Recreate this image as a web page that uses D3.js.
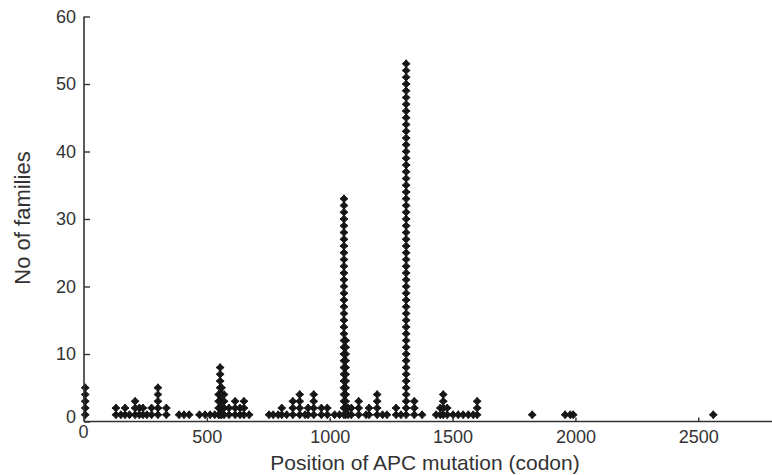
<!DOCTYPE html>
<html>
<head>
<meta charset="utf-8">
<script src="https://cdn.jsdelivr.net/npm/d3@7"></script>
<style>
  html, body { margin: 0; padding: 0; background: #fff; }
  svg { display: block; }
  text { font-family: "Liberation Sans", Arial, Helvetica, sans-serif; fill: #333; }
</style>
</head>
<body>
<svg id="chart" width="772" height="475"></svg>
<script>
// ---- data ----
const codons = [5, 130, 150, 167, 185, 208, 225, 240, 256, 275, 301, 335, 387, 407, 428, 470, 493, 513, 532, 548, 554, 560, 570, 590, 615, 635, 651, 672, 753, 770, 790, 805, 825, 850, 878, 900, 912, 935, 966, 990, 1020, 1040, 1058, 1065, 1075, 1088, 1118, 1148, 1160, 1193, 1215, 1233, 1270, 1290, 1311, 1344, 1376, 1433, 1450, 1462, 1478, 1502, 1523, 1543, 1564, 1584, 1600, 1824, 1958, 1979, 1991, 2561];
const families = [5, 2, 1, 2, 1, 3, 2, 2, 1, 2, 5, 2, 1, 1, 1, 1, 1, 1, 1, 4, 8, 5, 4, 2, 3, 2, 3, 1, 1, 1, 1, 2, 1, 3, 4, 1, 2, 4, 2, 2, 1, 1, 33, 12, 2, 2, 3, 1, 2, 4, 1, 1, 2, 1, 53, 3, 1, 1, 2, 4, 2, 1, 1, 1, 1, 1, 3, 1, 1, 1, 1, 1];
const xTicks = [0, 500, 1000, 1500, 2000, 2500];
const yTicks = [0, 10, 20, 30, 40, 50, 60];
const xTitle = "Position of APC mutation (codon)";
const yTitle = "No of families";

// ---- layout ----
const svg = d3.select("#chart");
const x = d3.scaleLinear().domain([0, 2800]).range([84, 772]);
const y = d3.scaleLinear().domain([0, 60]).range([421.5, 16.5]);
const FONT = "Liberation Sans, Arial, sans-serif";

// points: one marker per family, stacked
const pts = [];
codons.forEach((c, i) => {
  for (let j = 1; j <= families[i]; j++) pts.push({c, j});
});

const starPath = (() => {
  const R = 4.0, r = 2.5, p = [];
  for (let k = 0; k < 8; k++) {
    const a = -Math.PI / 2 + k * Math.PI / 4;
    const rad = k % 2 === 0 ? R : r;
    p.push([rad * Math.cos(a), rad * Math.sin(a)]);
  }
  return "M" + p.map(d => d[0].toFixed(2) + "," + d[1].toFixed(2)).join("L") + "Z";
})();

svg.append("g").selectAll("path").data(pts).join("path")
  .attr("d", starPath)
  .attr("transform", d => `translate(${x(d.c)},${y(d.j)})`)
  .attr("fill", "#161616")
  .attr("stroke", "#161616")
  .attr("stroke-width", 1)
  .attr("stroke-linejoin", "round");

// axes
const xAxis = d3.axisBottom(x).tickValues(xTicks).tickSize(-4).tickPadding(9).tickFormat(d3.format("d"));
const yAxis = d3.axisLeft(y).tickValues(yTicks).tickSize(-6).tickPadding(8).tickFormat(d3.format("d"));

const gx = svg.append("g").attr("transform", `translate(0,${y(0)})`).call(xAxis);
gx.select(".domain").attr("d", `M${x(0)},0H772`).attr("stroke", "#333").attr("stroke-width", 1.6);
gx.selectAll(".tick line").attr("stroke", "#333").attr("stroke-width", 1.4);
gx.selectAll(".tick text").attr("font-size", 18).attr("fill", "#333").attr("font-family", FONT);
gx.selectAll(".tick text").filter(d => d === 0).attr("y", 4).attr("x", -1);

const gy = svg.append("g").attr("transform", `translate(${x(0)},0)`).call(yAxis);
gy.select(".domain").attr("d", `M0,${y(60)}V${y(0)}`).attr("stroke", "#333").attr("stroke-width", 1.6);
gy.selectAll(".tick line").attr("stroke", "#333").attr("stroke-width", 1.4);
gy.selectAll(".tick text").attr("font-size", 18).attr("fill", "#333").attr("font-family", FONT);
gy.selectAll(".tick text").filter(d => d === 0).attr("dy", "0.05em");

// titles
svg.append("text")
  .attr("x", 425).attr("y", 470)
  .attr("text-anchor", "middle")
  .attr("font-size", 21)
  .attr("font-family", FONT)
  .text(xTitle);

svg.append("text")
  .attr("transform", `translate(30,218) rotate(-90)`)
  .attr("text-anchor", "middle")
  .attr("font-size", 22)
  .attr("font-family", FONT)
  .text(yTitle);
</script>
</body>
</html>
